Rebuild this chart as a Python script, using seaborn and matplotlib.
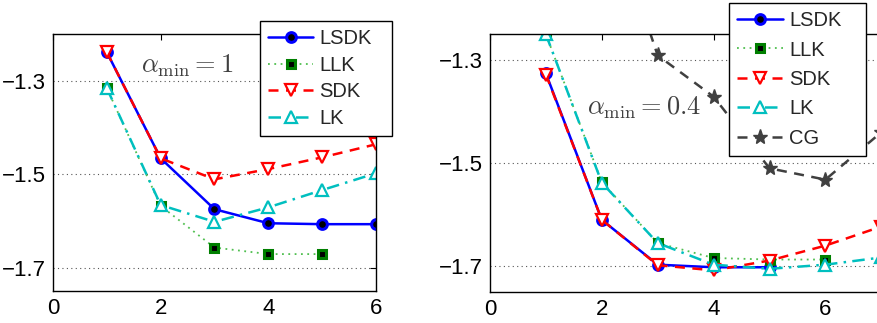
import numpy as np
import pandas as pd
import matplotlib
matplotlib.use("Agg")
import matplotlib.pyplot as plt
import seaborn as sns

# ---------------- data ----------------
# left panel (alpha_min = 1)
x_left = [1, 2, 3, 4, 5, 6]
lsdk_left = [-1.239, -1.466, -1.575, -1.605, -1.607, -1.607]
llk_left_x = [1, 2, 3, 4, 5]
llk_left = [-1.316, -1.568, -1.657, -1.671, -1.671]
sdk_left = [-1.239, -1.466, -1.511, -1.489, -1.464, -1.436]
lk_left = [-1.316, -1.566, -1.602, -1.571, -1.534, -1.498]

# right panel (alpha_min = 0.4)
lsdk_right_x = [1, 2, 3, 4, 5]
lsdk_right = [-1.326, -1.610, -1.697, -1.702, -1.702]
llk_right_x = [1, 2, 3, 4, 5, 6]
llk_right = [-1.250, -1.537, -1.655, -1.684, -1.687, -1.687]
sdk_right_x = [1, 2, 3, 4, 5, 6, 7]
sdk_right = [-1.328, -1.610, -1.698, -1.708, -1.689, -1.660, -1.623]
lk_right_x = [1, 2, 3, 4, 5, 6, 7]
lk_right = [-1.250, -1.538, -1.655, -1.697, -1.705, -1.697, -1.683]
cg_right_x = [2, 3, 4, 5, 6, 7]
cg_right = [-0.97, -1.291, -1.371, -1.510, -1.532, -1.440]

yticks = [-1.7, -1.5, -1.3]
ytick_labels = ["\u22121.7", "\u22121.5", "\u22121.3"]
xticks = [0, 2, 4, 6]

# ---------------- style ----------------
sns.set_style("white")
plt.rcParams["font.family"] = ["Liberation Sans", "DejaVu Sans"]
plt.rcParams["mathtext.fontset"] = "cm"
plt.rcParams["axes.unicode_minus"] = True

W, H = 878, 323
fig = plt.figure(figsize=(W / 100, H / 100), dpi=100)

axL = fig.add_axes([53 / W, (H - 291) / H, 323 / W, (291 - 34) / H])
axR = fig.add_axes([490 / W, (H - 292) / H, 8 * 55.9 / W, (292 - 34.3) / H])

styles = {
    "LSDK": dict(color="#0000ff", linestyle="-", marker="o", markersize=7,
                 markerfacecolor="black", markeredgecolor="#0000ff",
                 markeredgewidth=2.2, linewidth=1.8),
    "LLK": dict(color="#4fbf4f", linestyle=(0, (1, 2.5)), marker="s", markersize=6,
                markerfacecolor="black", markeredgecolor="#007f00",
                markeredgewidth=2.2, linewidth=1.3),
    "SDK": dict(color="#ff0000", linestyle=(0, (4, 3)), marker="v", markersize=8,
                markerfacecolor="white", markeredgecolor="#ff0000",
                markeredgewidth=1.6, linewidth=1.8),
    "LK": dict(color="#00bfbf", linestyle=(0, (5, 2.5, 1, 2.5)), marker="^", markersize=8,
               markerfacecolor="white", markeredgecolor="#00bfbf",
               markeredgewidth=1.6, linewidth=1.8),
    "CG": dict(color="#404040", linestyle=(0, (4, 3)), marker="*", markersize=11,
               markerfacecolor="#404040", markeredgecolor="#404040",
               markeredgewidth=1.0, linewidth=1.8),
}


def draw(ax, x, y, name):
    st = dict(styles[name])
    color = st.pop("color")
    sns.lineplot(x=x, y=y, ax=ax, color=color, label=name, sort=False,
                 estimator=None, legend=False, **st)


draw(axL, x_left, lsdk_left, "LSDK")
draw(axL, llk_left_x, llk_left, "LLK")
draw(axL, x_left, sdk_left, "SDK")
draw(axL, x_left, lk_left, "LK")

draw(axR, lsdk_right_x, lsdk_right, "LSDK")
draw(axR, llk_right_x, llk_right, "LLK")
draw(axR, sdk_right_x, sdk_right, "SDK")
draw(axR, lk_right_x, lk_right, "LK")
draw(axR, cg_right_x, cg_right, "CG")

for ax, xl, yl in [(axL, (0, 6), (-1.75, -1.2)),
                   (axR, (0, 8), (-1.75, -1.25))]:
    ax.set_xlim(*xl)
    ax.set_ylim(*yl)
    ax.set_xticks(xticks)
    ax.set_yticks(yticks)
    ax.set_xticklabels([str(v) for v in xticks])
    ax.set_yticklabels(ytick_labels)
    ax.tick_params(direction="in", top=True, right=True, length=4, width=0.8,
                   labelsize=16, pad=5, colors="black")
    ax.grid(axis="y", linestyle=(0, (1, 3)), color="#555555", linewidth=0.8)
    ax.grid(axis="x", visible=False)
    for sp in ax.spines.values():
        sp.set_visible(True)
        sp.set_color("black")
        sp.set_linewidth(1.0)
    ax.set_xlabel("")
    ax.set_ylabel("")
    ax.set_axisbelow(True)

axL.text(187 / W, (H - 66) / H, r"$\alpha_{\min} = 1$", transform=fig.transFigure,
         ha="center", va="center", fontsize=19, color="#404040")
axR.text(644 / W, (H - 108) / H, r"$\alpha_{\min} = 0.4$", transform=fig.transFigure,
         ha="center", va="center", fontsize=19, color="#404040")

hL, lL = axL.get_legend_handles_labels()
legL = fig.legend(hL, lL, loc="upper left",
                  bbox_to_anchor=(260 / W, (H - 132) / H, 132 / W, 111 / H),
                  mode="expand", borderaxespad=0, fontsize=14.5, frameon=True,
                  fancybox=False, framealpha=1, edgecolor="black",
                  handlelength=2.25, labelspacing=0.38, handletextpad=0.3,
                  borderpad=0.4)
legL.get_frame().set_linewidth(1.0)

hR, lR = axR.get_legend_handles_labels()
legR = fig.legend(hR, lR, loc="upper left",
                  bbox_to_anchor=(729 / W, (H - 156) / H, 137 / W, 153 / H),
                  mode="expand", borderaxespad=0, fontsize=14.5, frameon=True,
                  fancybox=False, framealpha=1, edgecolor="black",
                  handlelength=2.3, labelspacing=0.52, handletextpad=0.3,
                  borderpad=0.4)
legR.get_frame().set_linewidth(1.0)

fig.savefig("out.png", dpi=100)
